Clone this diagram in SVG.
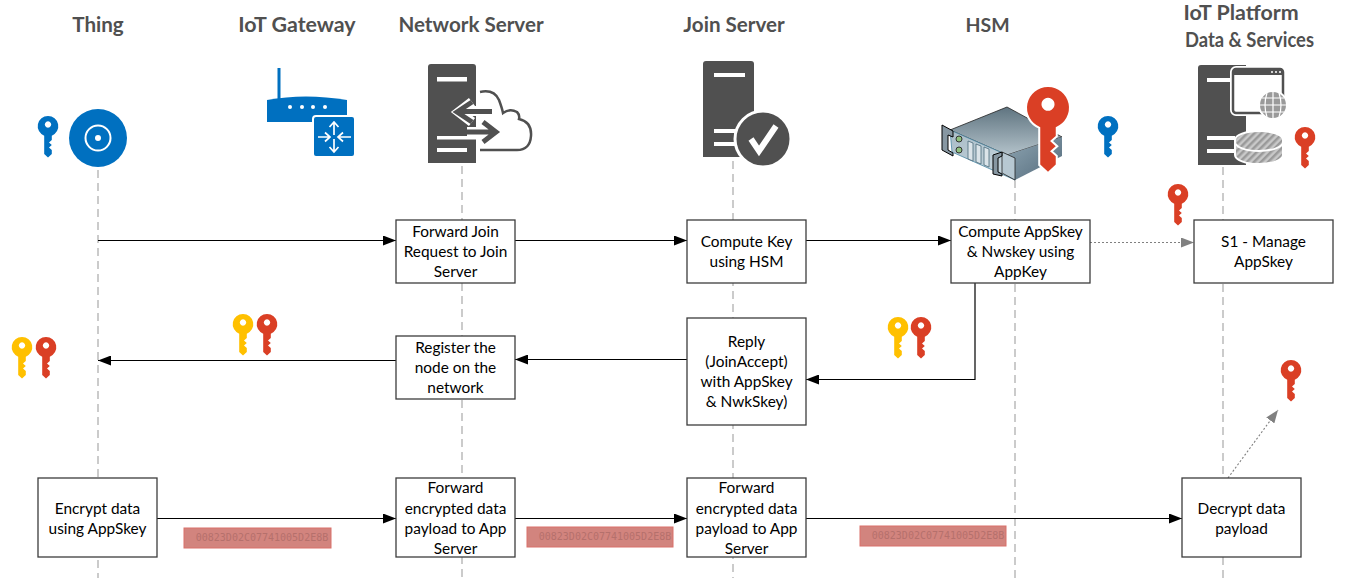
<svg xmlns="http://www.w3.org/2000/svg" width="1365" height="578" viewBox="0 0 1365 578">
<style>
.t{font-family:"Lato","Open Sans","Liberation Sans",sans-serif;font-weight:700;font-size:20.600px;fill:#505050;text-anchor:middle}
.b{font-family:"Lato","Open Sans","Liberation Sans",sans-serif;font-size:15.400px;fill:#000;text-anchor:middle}
.box{fill:#fff;stroke:#3c3c3c;stroke-width:1.3}
.life{stroke:#b0b0b0;stroke-width:1.3;stroke-dasharray:8 5;fill:none}
.c{stroke:#000;stroke-width:1.2;fill:none;marker-end:url(#a)}
.d{stroke:#808080;stroke-width:1.1;stroke-dasharray:2 2;fill:none;marker-end:url(#g)}
.chip{fill:#d2847e;stroke:#d9706a;stroke-width:1}
.m{font-family:"DejaVu Sans Mono","Liberation Mono",monospace;font-size:10px;fill:#b5706c;text-anchor:middle}
.w{fill:#fff}.dk{fill:#505050}.bl{fill:#0070c0}
</style>
<defs>
<marker id="a" markerUnits="userSpaceOnUse" markerWidth="13" markerHeight="10" refX="13" refY="5" orient="auto"><path d="M0 0L13 5L0 10Z" fill="#000"/></marker>
<marker id="g" markerUnits="userSpaceOnUse" markerWidth="13" markerHeight="10" refX="13" refY="5" orient="auto"><path d="M0 0L13 5L0 10Z" fill="#808080"/></marker>
<path id="key" fill-rule="evenodd" d="M0 0A10.200 10.200 0 0 1 3.800 19.700V24L1 26.500L3.800 29L1 31.500L3.800 34V38L0 41.500L-3.800 38V19.700A10.200 10.200 0 0 1 0 0ZM0 5.300A3.200 3.200 0 1 0 0.010 5.300Z"/>
<linearGradient id="hsmTop" x1="0.500" y1="0" x2="0.500" y2="1"><stop offset="0" stop-color="#5f7480"/><stop offset="1" stop-color="#b3c2ca"/></linearGradient>
<linearGradient id="hsmF" x1="0" y1="0" x2="1" y2="1"><stop offset="0" stop-color="#a9bcc7"/><stop offset="1" stop-color="#c9d8e0"/></linearGradient>
<linearGradient id="hsmS" x1="0" y1="0" x2="1" y2="1"><stop offset="0" stop-color="#8fa6b3"/><stop offset="1" stop-color="#52697a"/></linearGradient>
<pattern id="hatch" width="5" height="5" patternUnits="userSpaceOnUse" patternTransform="rotate(45)"><rect width="5" height="5" fill="#c8c8c8"/><rect width="2.500" height="5" fill="#9a9a9a"/></pattern>
</defs>

<g id="connectors">
<path class="life" d="M98 170V578"/>
<path class="life" d="M462 166V578"/>
<path class="life" d="M733 161V578"/>
<path class="life" d="M1015 180V578"/>
<path class="life" d="M1223 167V578"/>
<path class="c" d="M98 240.500H396"/>
<path class="c" d="M515 240.500H687"/>
<path class="c" d="M806 240.500H951"/>
<path class="d" d="M1090 242.500H1194"/>
<path class="c" d="M975 283V379.500H806"/>
<path class="c" d="M687 359.500H515"/>
<path class="c" d="M396 360.500H98"/>
<path class="c" d="M157 518.500H396"/>
<path class="c" d="M515 518.500H687"/>
<path class="c" d="M806 518.500H1182"/>
<path class="d" d="M1228 478L1278 410"/>
</g>

<g id="thing">
<text class="t" x="98" y="32">Thing</text>
<circle class="bl" cx="98" cy="138" r="29"/>
<circle cx="98" cy="138" r="12.500" fill="none" stroke="#fff" stroke-width="2"/>
<circle class="w" cx="98" cy="138" r="3"/>
<use href="#key" x="48" y="116" fill="#0070c0"/>
</g>

<g id="iot-gateway">
<text class="t" x="297" y="32" style="font-size:21.400px">IoT Gateway</text>
<rect class="bl" x="277.500" y="68" width="3" height="31"/>
<path class="bl" d="M267 100Q305 93 347 100V122H267Z"/>
<circle class="w" cx="290" cy="107" r="2"/><circle class="w" cx="302" cy="107" r="2"/><circle class="w" cx="313" cy="107" r="2"/><circle class="w" cx="325" cy="107" r="2"/>
<rect class="bl" x="313" y="116" width="42" height="41" rx="3" stroke="#fff" stroke-width="2"/>
<path d="M334 122V135M329.500 127L334 122L338.500 127M334 139V152M329.500 147L334 152L338.500 147M318 137H330M325 132.500L330 137L325 141.500M351 137H338M343 132.500L338 137L343 141.500" fill="none" stroke="#fff" stroke-width="1.700"/>
</g>

<g id="network-server">
<text class="t" x="471" y="32">Network Server</text>
<path class="dk" d="M431 64H473Q476 64 476 67V163H428V67Q428 64 431 64Z"/>
<rect class="w" x="437" y="77" width="30" height="4.500"/>
<rect class="w" x="437" y="136" width="40" height="3.500"/>
<rect class="w" x="437" y="148" width="30" height="4"/>
<path d="M480 92Q494 89 499 100Q502 108 503 113Q510 108 517 112Q520 115 519 119Q532 122 531 136Q530 150 517 150H480" fill="none" stroke="#505050" stroke-width="2.500"/>
<g fill="none" stroke-linejoin="miter"><path d="M492 111H460M472 102L459 112L472 122M467 132H492M483 122L496 132L483 142" stroke="#fff" stroke-width="10"/>
<path d="M492 111.500H459M472 102L457 112L472 122M467 132H494M483 122L496 132L483 142" stroke="#505050" stroke-width="5"/></g>
</g>

<g id="join-server">
<text class="t" x="734" y="32">Join Server</text>
<path class="dk" d="M706 61H751Q754 61 754 64V157H703V64Q703 61 706 61Z"/>
<rect class="w" x="714" y="73" width="31" height="4"/>
<rect class="w" x="714" y="129" width="31" height="4"/>
<rect class="w" x="714" y="142" width="31" height="4"/>
<circle class="dk" cx="763" cy="139" r="28" stroke="#fff" stroke-width="3"/>
<path d="M751 139L759 151L776 126" fill="none" stroke="#fff" stroke-width="6"/>
</g>

<g id="hsm">
<text class="t" x="987.500" y="32" style="font-size:19.500px">HSM</text>
<path d="M950 130L1007 107L1062 137L1007 155Z" fill="url(#hsmTop)" stroke="#222" stroke-width=".8"/>
<path d="M1007 155L1062 137V156L1015 180Z" fill="url(#hsmS)"/>
<path d="M950 130L1007 155L1015 180L952 152Z" fill="url(#hsmF)" stroke="#4a88a5" stroke-width=".8"/>
<path d="M1002 152L1015 158V180L1002 173Z" fill="#b7c8d2" stroke="#222" stroke-width=".8"/>
<path d="M942 125L953 131V137L948 135V150L953 153V156L942 150Z" fill="#8797a2" stroke="#000" stroke-width="1"/>
<path d="M993 155L1002 152L1002 156L998 158V172L1002 174V176L993 174Z" fill="#8797a2" stroke="#000" stroke-width="1"/>
<circle cx="959" cy="139" r="3" fill="#8fc27f" stroke="#333"/><circle cx="959" cy="150" r="3" fill="#8fc27f" stroke="#333"/>
<path d="M968 141L973 143V161L968 159Z" fill="#dbe4e9" stroke="#4a6a7a" stroke-width=".8"/><path d="M976 144L981 146V164L976 162Z" fill="#dbe4e9" stroke="#4a6a7a" stroke-width=".8"/><path d="M984 147L989 149V167L984 165Z" fill="#dbe4e9" stroke="#4a6a7a" stroke-width=".8"/>
<g transform="translate(1048,87) scale(2.040)"><use href="#key" fill="#da3f25" stroke="#fff" stroke-width="2" paint-order="stroke"/></g>
<use href="#key" x="1108" y="116" fill="#0070c0"/>
</g>

<g id="iot-platform">
<text class="t" x="1241" y="20" style="font-size:21.400px">IoT Platform</text>
<text class="t" x="1249.500" y="47" textLength="129" lengthAdjust="spacingAndGlyphs">Data &amp; Services</text>
<path class="dk" d="M1201 65H1246V165H1198V68Q1198 65 1201 65Z"/>
<rect class="w" x="1207" y="78" width="26" height="4"/>
<rect class="w" x="1207" y="136" width="28" height="4"/>
<rect class="w" x="1207" y="149" width="28" height="4"/>
<rect x="1233" y="69" width="50" height="44" rx="3" fill="#fff" stroke="#fff" stroke-width="6"/>
<rect x="1233" y="69" width="50" height="44" rx="3" fill="#fff" stroke="#505050" stroke-width="2.500"/>
<rect x="1233" y="69" width="50" height="6" fill="#505050"/>
<circle class="w" cx="1272" cy="72" r="1"/><circle class="w" cx="1276" cy="72" r="1"/><circle class="w" cx="1280" cy="72" r="1"/>
<circle cx="1273" cy="105" r="14" fill="#9a9a9a" stroke="#fff" stroke-width="2"/>
<path d="M1260 105H1286M1273 92V118M1267 93Q1263 105 1267 117M1279 93Q1283 105 1279 117M1262 98H1284M1262 112H1284" fill="none" stroke="#fff" stroke-width="1.200"/>
<path d="M1235 140A24 9 0 0 1 1283 140V155A24 9 0 0 1 1235 155Z" fill="url(#hatch)" stroke="#fff" stroke-width="2"/>
<path d="M1235 142A24 9 0 0 0 1283 142" fill="none" stroke="#fff" stroke-width="2"/>
<use href="#key" x="1305" y="127" fill="#da3f25"/>
<use href="#key" x="1178" y="184" fill="#da3f25"/>
</g>

<g id="forward-join"><rect class="box" x="396" y="220" width="119" height="63"/>
<text class="b" x="455.500" y="237">Forward Join</text><text class="b" x="455.500" y="257">Request to Join</text><text class="b" x="455.500" y="277">Server</text></g>

<g id="compute-key"><rect class="box" x="687" y="220" width="119" height="63"/>
<text class="b" x="746.500" y="247">Compute Key</text><text class="b" x="746.500" y="267">using HSM</text></g>

<g id="compute-appskey"><rect class="box" x="951" y="220" width="139" height="63"/>
<text class="b" x="1020.500" y="237">Compute AppSkey</text><text class="b" x="1020.500" y="257">&amp; Nwskey using</text><text class="b" x="1020.500" y="277">AppKey</text></g>

<g id="manage-appskey"><rect class="box" x="1194" y="220" width="139" height="63"/>
<text class="b" x="1263.500" y="247">S1 - Manage</text><text class="b" x="1263.500" y="267">AppSkey</text></g>

<g id="register"><rect class="box" x="396" y="336" width="119" height="63"/>
<text class="b" x="455.500" y="353">Register the</text><text class="b" x="455.500" y="373">node on the</text><text class="b" x="455.500" y="393">network</text></g>

<g id="reply"><rect class="box" x="687" y="318" width="119" height="107"/>
<text class="b" x="746.500" y="347">Reply</text><text class="b" x="746.500" y="367">(JoinAccept)</text><text class="b" x="746.500" y="387">with AppSkey</text><text class="b" x="746.500" y="407">&amp; NwkSkey)</text></g>

<g id="encrypt"><rect class="box" x="38" y="478" width="119" height="79"/>
<text class="b" x="97.500" y="514">Encrypt data</text><text class="b" x="97.500" y="534">using AppSkey</text></g>

<g id="forward-1"><rect class="box" x="396" y="478" width="119" height="79"/>
<text class="b" x="455.500" y="493">Forward</text><text class="b" x="455.500" y="514">encrypted data</text><text class="b" x="455.500" y="534">payload to App</text><text class="b" x="455.500" y="554">Server</text></g>

<g id="forward-2"><rect class="box" x="687" y="478" width="119" height="79"/>
<text class="b" x="746.500" y="493">Forward</text><text class="b" x="746.500" y="514">encrypted data</text><text class="b" x="746.500" y="534">payload to App</text><text class="b" x="746.500" y="554">Server</text></g>

<g id="decrypt"><rect class="box" x="1182" y="478" width="119" height="79"/>
<text class="b" x="1241.500" y="514">Decrypt data</text><text class="b" x="1241.500" y="534">payload</text></g>

<g id="keys">
<use href="#key" x="22" y="337" fill="#ffc000"/><use href="#key" x="46" y="337" fill="#da3f25"/>
<use href="#key" x="243" y="314" fill="#ffc000"/><use href="#key" x="267" y="314" fill="#da3f25"/>
<use href="#key" x="898" y="317" fill="#ffc000"/><use href="#key" x="921" y="317" fill="#da3f25"/>
<use href="#key" x="1291" y="360" fill="#da3f25"/>
</g>

<g id="payloads">
<rect class="chip" x="184" y="528" width="147" height="20"/><text class="m" x="262" y="541">00823D02C07741005D2E8B</text>
<rect class="chip" x="527" y="527" width="146" height="20"/><text class="m" x="605" y="540">00823D02C07741005D2E8B</text>
<rect class="chip" x="860" y="526" width="146" height="20"/><text class="m" x="938" y="539">00823D02C07741005D2E8B</text>
</g>
</svg>
